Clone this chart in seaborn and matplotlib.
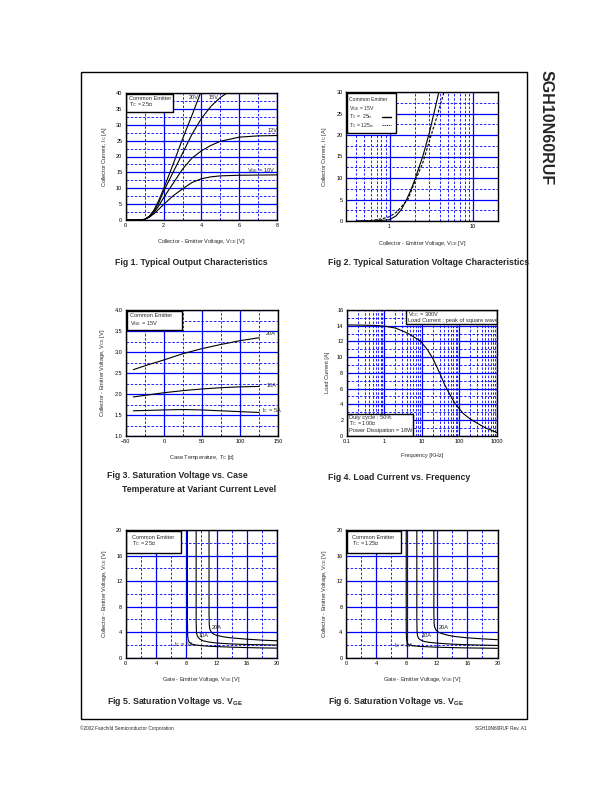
"""Datasheet page with six IGBT characteristic curves."""
import matplotlib

matplotlib.use("Agg")
import matplotlib.pyplot as plt
import seaborn as sns
from matplotlib.lines import Line2D
from matplotlib.patches import Rectangle
from matplotlib.ticker import FixedLocator, MultipleLocator, NullFormatter, FixedFormatter

# Fig 1: output characteristics, Tc = 25C
VCE_LOW = [0, 0.7, 1.0, 1.25, 1.5, 1.75, 2.0, 2.5, 3.0, 3.5, 4.0, 4.5, 5.0, 6.0, 7.0, 8.0]
IC_VGE10 = [0, 0, 0.2, 0.9, 2.0, 3.4, 4.9, 7.6, 9.8, 11.8, 13.0, 13.6, 13.9, 14.1, 14.15, 14.2]
IC_VGE12 = [0, 0, 0.2, 1.0, 2.4, 4.5, 7.0, 11.5, 16.0, 19.5, 21.8, 23.5, 24.8, 26.1, 26.5, 26.6]
VCE_VGE15 = [0, 0.7, 1.0, 1.25, 1.5, 1.75, 2.0, 2.5, 3.0, 3.5, 4.0, 4.5, 5.0, 5.35]
IC_VGE15 = [0, 0, 0.2, 1.1, 2.8, 5.5, 9.0, 15.0, 21.0, 27.0, 32.0, 35.8, 38.6, 40]
VCE_VGE20 = [0, 0.7, 1.0, 1.25, 1.5, 1.75, 2.0, 2.5, 3.0, 3.5, 3.95]
IC_VGE20 = [0, 0, 0.2, 1.2, 3.2, 6.2, 9.8, 17.5, 25.5, 33.0, 40]

# Fig 2: saturation characteristics, VGE = 15V
VCE_25C = [0.4, 0.7, 1.0, 1.2, 1.4, 1.6, 1.8, 2.0, 2.5, 3.0, 3.5, 3.9]
IC_25C = [0, 0.05, 0.3, 1.2, 2.8, 5.0, 7.2, 9.5, 15.0, 20.5, 26.0, 30.0]
VCE_125C = [0.4, 0.6, 0.8, 1.0, 1.2, 1.4, 1.66, 2.0, 2.5, 3.16, 3.8, 4.5]
IC_125C = [0, 0.1, 0.5, 1.0, 2.0, 3.4, 5.0, 9.0, 13.5, 20.0, 25.0, 30.0]

# Fig 3: VCE vs case temperature
TEMP_C = [-40, -20, 0, 25, 50, 75, 100, 125]
VCE_20A = [2.58, 2.70, 2.81, 2.96, 3.08, 3.18, 3.27, 3.34]
VCE_10A = [1.93, 1.98, 2.03, 2.08, 2.12, 2.15, 2.17, 2.18]
VCE_5A = [1.60, 1.61, 1.62, 1.63, 1.62, 1.60, 1.58, 1.56]

# Fig 4: load current vs frequency
FREQ_KHZ = [0.1, 0.5, 1, 2, 4, 6, 9, 14, 20, 30, 40, 60, 80, 130, 200, 300, 500, 1000]
LOAD_A = [14.1, 14.05, 13.95, 13.7, 13.1, 12.6, 12.1, 11.0, 9.8, 8.0, 6.6, 5.0, 4.0, 2.8, 2.1, 1.6, 1.0, 0.4]

# Fig 5: VCE vs VGE, Tc = 25C
VGE25_5A = [8.15, 8.15, 8.18, 8.25, 8.4, 8.7, 9.2, 10, 11, 12, 14, 16, 18, 20]
VCE25_5A = [20, 6, 3.5, 2.8, 2.4, 2.15, 2.0, 1.88, 1.8, 1.74, 1.65, 1.58, 1.53, 1.5]
VGE25_10A = [9.3, 9.3, 9.33, 9.4, 9.55, 9.8, 10.2, 11, 12, 14, 16, 18, 20]
VCE25_10A = [20, 6, 4.2, 3.6, 3.2, 2.9, 2.65, 2.45, 2.3, 2.15, 2.07, 2.02, 1.98]
VGE25_20A = [11.0, 11.0, 11.03, 11.1, 11.3, 11.6, 12, 13, 14, 16, 18, 20]
VCE25_20A = [20, 7, 5.2, 4.5, 4.0, 3.7, 3.5, 3.25, 3.1, 2.9, 2.75, 2.65]

# Fig 6: VCE vs VGE, Tc = 125C
VGE125_5A = [7.95, 7.95, 7.98, 8.05, 8.2, 8.5, 9, 10, 12, 14, 16, 18, 20]
VCE125_5A = [20, 5, 3.0, 2.4, 2.1, 1.95, 1.85, 1.75, 1.65, 1.58, 1.53, 1.5, 1.47]
VGE125_10A = [9.35, 9.35, 9.38, 9.45, 9.6, 9.9, 10.3, 11, 12, 14, 16, 18, 20]
VCE125_10A = [20, 6, 4.0, 3.4, 3.0, 2.75, 2.55, 2.4, 2.28, 2.12, 2.03, 1.97, 1.92]
VGE125_20A = [11.6, 11.6, 11.63, 11.7, 11.9, 12.2, 12.6, 13.5, 14.5, 16, 18, 20]
VCE125_20A = [20, 7, 5.4, 4.8, 4.3, 4.0, 3.8, 3.5, 3.3, 3.12, 2.95, 2.82]

W, H = 612, 792
BLUE = "#0000ff"
TICK_FS = 4.0
LABEL_FS = 4.1
NOTE_FS = 4.1
TITLE_FS = 6.3

sns.set_theme(style="white")
plt.rcParams["font.family"] = ["Liberation Sans", "DejaVu Sans"]
plt.rcParams["mathtext.fontset"] = "custom"
plt.rcParams["mathtext.rm"] = "Liberation Sans"
plt.rcParams["mathtext.it"] = "Liberation Sans:italic"
plt.rcParams["mathtext.bf"] = "Liberation Sans:bold"

fig = plt.figure(figsize=(W / 100, H / 100), dpi=100)


def _axes(left, top, width, height):
    ax = fig.add_axes([left / W, 1 - (top + height) / H, width / W, height / H])
    for sp in ax.spines.values():
        sp.set_color("black")
        sp.set_linewidth(1.0)
        sp.set_zorder(5)
    ax.tick_params(which="both", length=0, pad=2.5, labelsize=TICK_FS, colors="black")
    return ax


def _grid(ax):
    ax.grid(which="major", color=BLUE, ls="-", lw=0.9)
    ax.grid(which="minor", color=BLUE, ls=(0, (3, 2)), lw=0.6)
    ax.set_axisbelow(True)


def _curve(ax, x, y, ls="-"):
    sns.lineplot(x=x, y=y, ax=ax, color="black", lw=0.8, linestyle=ls,
                 sort=False, estimator=None, zorder=3)


def _note_box(ax, x0, y0, x1, y1):
    ax.add_patch(Rectangle((x0, y0), x1 - x0, y1 - y0, transform=ax.transAxes,
                           fc="white", ec="black", lw=1.0, zorder=4))


def _note(ax, x, y, s, fs=NOTE_FS):
    ax.text(x, y, s, transform=ax.transAxes, fontsize=fs, ha="left", va="center", zorder=6)


def _label(ax, x, y, s):
    ax.text(x, y, s, fontsize=NOTE_FS, ha="left", va="center", zorder=6)


def _fig1():
    ax = _axes(125.7, 93, 151.5, 127)
    _curve(ax, VCE_LOW, IC_VGE10)
    _curve(ax, VCE_LOW, IC_VGE12)
    _curve(ax, VCE_VGE15, IC_VGE15)
    _curve(ax, VCE_VGE20, IC_VGE20)
    ax.set_xlim(0, 8)
    ax.set_ylim(0, 40)
    ax.xaxis.set_major_locator(MultipleLocator(2))
    ax.xaxis.set_minor_locator(MultipleLocator(1))
    ax.yaxis.set_major_locator(MultipleLocator(5))
    ax.yaxis.set_minor_locator(MultipleLocator(2.5))
    _grid(ax)
    ax.set_xlabel("Collector - Emitter Voltage, V$_{\\rm CE}$ [V]", fontsize=LABEL_FS, labelpad=6)
    ax.set_ylabel("Collector Current, I$_{\\rm C}$ [A]", fontsize=LABEL_FS, labelpad=5)
    _note_box(ax, 0.005, 0.85, 0.31, 0.995)
    _note(ax, 0.025, 0.955, "Common Emitter")
    _note(ax, 0.025, 0.905, "T$_{\\rm C}$ = 25℃")
    _label(ax, 3.35, 38.6, "20V")
    _label(ax, 4.4, 38.6, "15V")
    _label(ax, 7.5, 28.2, "12V")
    _label(ax, 6.4, 15.6, "V$_{\\rm GE}$ = 10V")


def _fig2():
    ax = _axes(346, 92, 152, 129)
    _curve(ax, VCE_25C, IC_25C)
    _curve(ax, VCE_125C, IC_125C, ls=(0, (2.5, 1.5)))
    ax.set_xscale("log")
    ax.set_xlim(0.3, 20)
    ax.set_ylim(0, 30)
    ax.xaxis.set_major_locator(FixedLocator([1, 10]))
    ax.xaxis.set_major_formatter(FixedFormatter(["1", "10"]))
    ax.xaxis.set_minor_locator(FixedLocator([0.4, 0.5, 0.6, 0.7, 0.8, 0.9, 2, 3, 4, 5, 6, 7, 8, 9]))
    ax.xaxis.set_minor_formatter(NullFormatter())
    ax.yaxis.set_major_locator(MultipleLocator(5))
    ax.yaxis.set_minor_locator(MultipleLocator(2.5))
    _grid(ax)
    ax.set_xlabel("Collector - Emitter Voltage, V$_{\\rm CE}$ [V]", fontsize=LABEL_FS, labelpad=7)
    ax.set_ylabel("Collector Current, I$_{\\rm C}$ [A]", fontsize=LABEL_FS, labelpad=5)
    _note_box(ax, 0.004, 0.68, 0.328, 0.993)
    _note(ax, 0.02, 0.94, "Common Emitter", fs=3.7)
    _note(ax, 0.02, 0.874, "V$_{\\rm GE}$ = 15V", fs=3.7)
    _note(ax, 0.02, 0.808, "T$_{\\rm C}$ =  25℃", fs=3.7)
    _note(ax, 0.02, 0.742, "T$_{\\rm C}$ = 125℃", fs=3.7)
    ax.add_line(Line2D([0.235, 0.295], [0.808, 0.808], transform=ax.transAxes,
                       color="black", lw=1.0, zorder=6))
    ax.add_line(Line2D([0.235, 0.295], [0.742, 0.742], transform=ax.transAxes,
                       color="black", lw=0.6, ls=(0, (1.5, 1)), zorder=6))


def _fig3():
    ax = _axes(125.7, 310, 152.5, 126)
    _curve(ax, TEMP_C, VCE_20A)
    _curve(ax, TEMP_C, VCE_10A)
    _curve(ax, TEMP_C, VCE_5A)
    ax.set_xlim(-50, 150)
    ax.set_ylim(1.0, 4.0)
    ax.xaxis.set_major_locator(MultipleLocator(50))
    ax.xaxis.set_minor_locator(MultipleLocator(25))
    ax.yaxis.set_major_locator(MultipleLocator(0.5))
    ax.yaxis.set_minor_locator(MultipleLocator(0.25))
    ax.yaxis.set_major_formatter(plt.FormatStrFormatter("%.1f"))
    _grid(ax)
    ax.set_xlabel("Case Temperature, T$_{\\rm C}$ [℃]", fontsize=LABEL_FS, labelpad=6)
    ax.set_ylabel("Collector - Emitter Voltage, V$_{\\rm CE}$ [V]", fontsize=LABEL_FS, labelpad=5)
    _note_box(ax, 0.007, 0.841, 0.367, 0.993)
    _note(ax, 0.03, 0.96, "Common Emitter")
    _note(ax, 0.03, 0.894, "V$_{\\rm GE}$ = 15V")
    _label(ax, 134, 3.43, "20A")
    _label(ax, 135, 2.2, "10A")
    _label(ax, 129, 1.6, "I$_{\\rm C}$ = 5A")


def _fig4():
    ax = _axes(346.7, 310, 150, 125.7)
    _curve(ax, FREQ_KHZ, LOAD_A)
    ax.set_xscale("log")
    ax.set_xlim(0.1, 1000)
    ax.set_ylim(0, 16)
    ax.xaxis.set_major_locator(FixedLocator([0.1, 1, 10, 100, 1000]))
    ax.xaxis.set_major_formatter(FixedFormatter(["0.1", "1", "10", "100", "1000"]))
    minors = [m * d for d in (0.1, 1, 10, 100) for m in range(2, 10)]
    ax.xaxis.set_minor_locator(FixedLocator(minors))
    ax.xaxis.set_minor_formatter(NullFormatter())
    ax.yaxis.set_major_locator(MultipleLocator(2))
    ax.yaxis.set_minor_locator(MultipleLocator(1))
    _grid(ax)
    ax.set_xlabel("Frequency [KHz]", fontsize=LABEL_FS, labelpad=6)
    ax.set_ylabel("Load Current [A]", fontsize=LABEL_FS, labelpad=5)
    _note_box(ax, 0.396, 0.889, 1.0, 1.0)
    _note(ax, 0.41, 0.966, "V$_{\\rm CC}$ = 300V")
    _note(ax, 0.41, 0.915, "Load Current : peak of square wave")
    _note_box(ax, 0.0, 0.0, 0.444, 0.17)
    _note(ax, 0.016, 0.146, "Duty cycle : 50%")
    _note(ax, 0.016, 0.093, "T$_{\\rm C}$ = 100℃")
    _note(ax, 0.016, 0.04, "Power Dissipation = 18W")


def _fig_vge(left, curves, temp_text, label_pos):
    ax = _axes(left, 530, 151.5, 127.7)
    for x, y in curves:
        _curve(ax, x, y)
    ax.set_xlim(0, 20)
    ax.set_ylim(0, 20)
    ax.xaxis.set_major_locator(MultipleLocator(4))
    ax.xaxis.set_minor_locator(MultipleLocator(2))
    ax.yaxis.set_major_locator(MultipleLocator(4))
    ax.yaxis.set_minor_locator(MultipleLocator(2))
    _grid(ax)
    ax.set_xlabel("Gate - Emitter Voltage, V$_{\\rm GE}$ [V]", fontsize=LABEL_FS, labelpad=6)
    ax.set_ylabel("Collector - Emitter Voltage, V$_{\\rm CE}$ [V]", fontsize=LABEL_FS, labelpad=5)
    _note_box(ax, 0.005, 0.817, 0.362, 0.993)
    _note(ax, 0.04, 0.943, "Common Emitter")
    _note(ax, 0.04, 0.89, temp_text)
    for (x, y), s in zip(label_pos, ["20A", "10A", "I$_{\\rm C}$ = 5A"]):
        _label(ax, x, y, s)


def _page():
    fig.add_artist(Rectangle((81 / W, 1 - 719 / H), (527 - 81) / W, (719 - 72) / H,
                             transform=fig.transFigure, fill=False, ec="black", lw=1.0))
    titles = [
        (115, 262, "Fig 1. Typical Output Characteristics"),
        (328, 262, "Fig 2. Typical Saturation Voltage Characteristics"),
        (107, 476, "Fig 3. Saturation Voltage vs. Case"),
        (122, 489, "Temperature at Variant Current Level"),
        (328, 478, "Fig 4. Load Current vs. Frequency"),
        (107, 701, "Fig 5. Saturation Voltage vs. V$_{\\bf GE}$"),
        (328, 701, "Fig 6. Saturation Voltage vs. V$_{\\bf GE}$"),
    ]
    for x, y, s in titles:
        fig.text(x / W, 1 - y / H, s, fontsize=TITLE_FS, fontweight="bold", ha="left", va="center")
    fig.text(546 / W, 1 - 70 / H, "SGH10N60RUF", fontsize=11.5, fontweight="bold",
             rotation=-90, ha="center", va="top")
    fig.text(80 / W, 1 - 728 / H, "©2002 Fairchild Semiconductor Corporation", fontsize=3.4,
             ha="left", va="center")
    fig.text(527 / W, 1 - 728 / H, "SGH10N60RUF Rev. A1", fontsize=3.4, ha="right", va="center")


def main():
    _fig1()
    _fig2()
    _fig3()
    _fig4()
    _fig_vge(125.7, [(VGE25_5A, VCE25_5A), (VGE25_10A, VCE25_10A), (VGE25_20A, VCE25_20A)],
             "T$_{\\rm C}$ = 25℃", [(11.3, 4.7), (9.6, 3.5), (6.4, 2.1)])
    _fig_vge(346, [(VGE125_5A, VCE125_5A), (VGE125_10A, VCE125_10A), (VGE125_20A, VCE125_20A)],
             "T$_{\\rm C}$ = 125℃", [(12.3, 4.8), (10.0, 3.5), (6.3, 1.9)])
    _page()
    fig.savefig("out.png", dpi=100)


if __name__ == "__main__":
    main()
